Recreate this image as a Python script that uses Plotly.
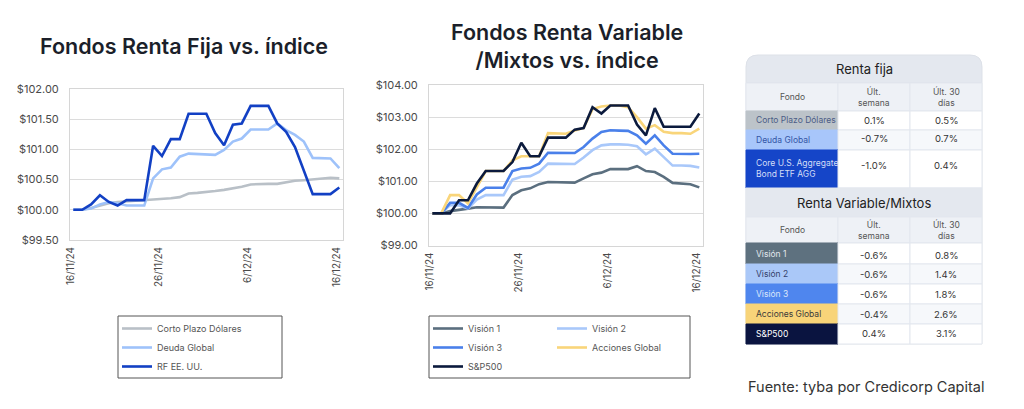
import pandas as pd
import plotly.graph_objects as go

W, H = 1024, 409
FONT = "Inter"

fechas = pd.date_range("2024-11-16", "2024-12-16", freq="D")
tick_fechas = ["2024-11-16", "2024-11-26", "2024-12-06", "2024-12-16"]
tick_textos = ["16/11/24", "26/11/24", "6/12/24", "16/12/24"]

# Renta fija
corto_plazo = [100.00, 100.00, 100.03, 100.07, 100.11, 100.13, 100.14, 100.15, 100.15, 100.16,
               100.17, 100.19, 100.21, 100.27, 100.28, 100.29, 100.31, 100.33, 100.35, 100.38,
               100.42, 100.43, 100.43, 100.43, 100.46, 100.48, 100.49, 100.50, 100.51, 100.53, 100.52]
deuda_global = [100.00, 100.00, 100.02, 100.09, 100.13, 100.11, 100.07, 100.07, 100.07, 100.52,
                100.67, 100.70, 100.88, 100.93, 100.92, 100.92, 100.91, 100.99, 101.13, 101.18,
                101.33, 101.33, 101.33, 101.43, 101.32, 101.24, 101.13, 100.86, 100.85, 100.85, 100.69]
rf_eeuu = [100.00, 100.00, 100.09, 100.24, 100.13, 100.07, 100.16, 100.16, 100.16, 101.06,
           100.89, 101.17, 101.17, 101.59, 101.59, 101.59, 101.27, 101.07, 101.41, 101.43,
           101.72, 101.72, 101.72, 101.43, 101.29, 101.04, 100.66, 100.26, 100.26, 100.26, 100.37]

# Renta variable / mixtos
vision_1 = [100.00, 100.00, 100.07, 100.12, 100.15, 100.19, 100.19, 100.18, 100.18, 100.57,
            100.72, 100.78, 100.91, 100.98, 100.98, 100.97, 100.96, 101.09, 101.22, 101.27,
            101.38, 101.38, 101.38, 101.47, 101.32, 101.29, 101.14, 100.95, 100.94, 100.91, 100.81]
vision_2 = [100.00, 100.00, 100.26, 100.25, 100.15, 100.43, 100.57, 100.57, 100.57, 101.05,
            101.14, 101.16, 101.29, 101.55, 101.55, 101.55, 101.54, 101.74, 101.97, 102.12,
            102.15, 102.15, 102.14, 102.09, 101.84, 102.02, 101.74, 101.49, 101.49, 101.48, 101.43]
vision_3 = [100.00, 100.00, 100.33, 100.33, 100.17, 100.59, 100.80, 100.80, 100.80, 101.32,
            101.40, 101.42, 101.55, 101.89, 101.89, 101.88, 101.88, 102.07, 102.33, 102.54,
            102.59, 102.58, 102.57, 102.43, 102.17, 102.43, 102.12, 101.86, 101.85, 101.85, 101.86]
acciones_global = [100.00, 100.00, 100.57, 100.57, 100.31, 100.83, 101.32, 101.32, 101.32, 101.65,
                   101.78, 101.78, 101.78, 102.50, 102.50, 102.48, 102.58, 102.66, 103.25, 103.33,
                   103.36, 103.36, 103.31, 103.00, 102.64, 102.75, 102.54, 102.50, 102.50, 102.48, 102.64]
sp500 = [100.00, 100.00, 100.00, 100.41, 100.41, 100.93, 101.32, 101.32, 101.32, 101.60,
         102.20, 101.78, 101.78, 102.36, 102.36, 102.36, 102.61, 102.66, 103.31, 103.11,
         103.36, 103.36, 103.36, 102.77, 102.43, 103.28, 102.70, 102.70, 102.70, 102.70, 103.11]

# Tabla
rf_fondos = ["Corto Plazo Dólares", "Deuda Global", "Core U.S. Aggregate<br>Bond ETF AGG"]
rf_semana = ["0.1%", "-0.7%", "-1.0%"]
rf_30d = ["0.5%", "0.7%", "0.4%"]
rv_fondos = ["Visión 1", "Visión 2", "Visión 3", "Acciones Global", "S&P500"]
rv_semana = ["-0.6%", "-0.6%", "-0.6%", "-0.4%", "0.4%"]
rv_30d = ["0.8%", "1.4%", "1.8%", "2.6%", "3.1%"]


def px(x):
    return x / W


def py(y):
    return 1 - y / H


fig = go.Figure()

series_rf = [
    ("Corto Plazo Dólares", corto_plazo, "#b9c0c7"),
    ("Deuda Global", deuda_global, "#9ec2fa"),
    ("RF EE. UU.", rf_eeuu, "#1240c4"),
]
for nombre, valores, color in series_rf:
    fig.add_trace(go.Scatter(
        x=fechas, y=valores, name=nombre, mode="lines",
        line={"color": color, "width": 2.6}, xaxis="x", yaxis="y", legend="legend",
    ))

series_rv = [
    ("Visión 1", vision_1, "#5b6f7f", "legend2"),
    ("Visión 2", vision_2, "#a9c8fa", "legend3"),
    ("Visión 3", vision_3, "#4a80ea", "legend2"),
    ("Acciones Global", acciones_global, "#f9d57a", "legend3"),
    ("S&P500", sp500, "#0b1a3d", "legend2"),
]
for nombre, valores, color, leg in series_rv:
    fig.add_trace(go.Scatter(
        x=fechas, y=valores, name=nombre, mode="lines",
        line={"color": color, "width": 2.6}, xaxis="x2", yaxis="y2", legend=leg,
    ))

x_range = [fechas[0] - pd.Timedelta(hours=9), fechas[-1] + pd.Timedelta(hours=10)]

eje_x = dict(
    type="date", range=x_range, tickmode="array", tickvals=tick_fechas, ticktext=tick_textos,
    tickangle=-90, showgrid=False, showline=True, mirror=True, linecolor="#d6d6d6",
    ticks="", tickfont={"size": 10, "color": "#4a4a4a", "family": FONT},
    ticklabelshift=-3, ticklabelstandoff=2, zeroline=False, automargin=False,
)
eje_y = dict(
    tickprefix="$", tickformat=".2f", showgrid=True, gridcolor="#dcdcdc", gridwidth=1,
    showline=True, mirror=True, linecolor="#d6d6d6", ticks="", zeroline=False,
    tickfont={"size": 11, "color": "#4a4a4a", "family": FONT}, ticklabelstandoff=8,
    automargin=False,
)

fig.update_layout(
    width=W, height=H, margin={"l": 0, "r": 0, "t": 0, "b": 0, "autoexpand": False},
    paper_bgcolor="white", plot_bgcolor="white",
    font={"family": FONT, "color": "#333"},
    xaxis={**eje_x, "domain": [px(70), px(343)], "anchor": "y"},
    yaxis={**eje_y, "domain": [py(240), py(89)], "range": [99.5, 102.0], "dtick": 0.5, "anchor": "x"},
    xaxis2={**eje_x, "domain": [px(429), px(703)], "anchor": "y2"},
    yaxis2={**eje_y, "domain": [py(245.5), py(85)], "range": [99.0, 104.0], "dtick": 1, "anchor": "x2"},
    showlegend=True,
)

leg_base = dict(
    bgcolor="rgba(0,0,0,0)", font={"size": 9, "color": "#555", "family": FONT},
    itemwidth=30, xanchor="left", yanchor="top", tracegroupgap=0,
    itemclick=False, itemdoubleclick=False,
)
fig.update_layout(
    legend={**leg_base, "x": px(117), "y": py(314)},
    legend2={**leg_base, "x": px(428), "y": py(314)},
    legend3={**leg_base, "x": px(552), "y": py(314)},
)

shapes = [
    dict(type="rect", xref="paper", yref="paper", x0=px(118), x1=px(282), y0=py(316), y1=py(378),
         line={"color": "#555", "width": 1}),
    dict(type="rect", xref="paper", yref="paper", x0=px(429), x1=px(690), y0=py(316), y1=py(378),
         line={"color": "#555", "width": 1}),
]
annotations = []


def texto(t, x, y, size=9.5, color="#333", anchor="center", weight=None):
    f = {"size": size, "color": color, "family": FONT}
    if weight:
        f["weight"] = weight
    annotations.append(dict(text=t, x=px(x), y=py(y), xref="paper", yref="paper",
                            xanchor=anchor, yanchor="middle", showarrow=False, font=f,
                            align=anchor))


texto("Fondos Renta Fija vs. índice", 184, 46, size=21.5, color="#1b1f2a", weight=600)
texto("Fondos Renta Variable<br>/Mixtos vs. índice", 567, 46, size=21.5, color="#1b1f2a", weight=600)
texto("Fuente: tyba por Credicorp Capital", 746, 386, size=14.5, color="#333", anchor="left")

# ---- tabla ----
COLS = [746, 838, 910, 982]
BORDE = "#e3e7ee"


def rect(x0, x1, y0, y1, fill, line=BORDE):
    shapes.append(dict(type="rect", xref="paper", yref="paper", x0=px(x0), x1=px(x1),
                       y0=py(y1), y1=py(y0), fillcolor=fill, line={"color": line, "width": 1},
                       layer="below"))


# marco con esquinas superiores redondeadas
r = 12
x0, x1, y0, y1 = COLS[0], COLS[-1], 55, 83
path = (f"M {px(x0)},{py(y1)} L {px(x0)},{py(y0 + r)} Q {px(x0)},{py(y0)} {px(x0 + r)},{py(y0)} "
        f"L {px(x1 - r)},{py(y0)} Q {px(x1)},{py(y0)} {px(x1)},{py(y0 + r)} L {px(x1)},{py(y1)} Z")
shapes.append(dict(type="path", xref="paper", yref="paper", path=path, fillcolor="#e4e8ef",
                   line={"color": "#dde1e8", "width": 1}, layer="below"))
rect(COLS[0], COLS[-1], 83, 344, "rgba(0,0,0,0)", "#e1e5ec")


def seccion(titulo, y_tit, y_cab, filas, fondos, semana, d30, fondos_bg, fondos_fg, y_val):
    if y_tit[0] != 55:
        rect(COLS[0], COLS[-1], y_tit[0], y_tit[1], "#e4e8ef")
    texto(titulo, (COLS[0] + COLS[-1]) / 2, (y_tit[0] + y_tit[1]) / 2, size=13, color="#222")
    for c in range(3):
        rect(COLS[c], COLS[c + 1], y_cab[0], y_cab[1], "#eef1f6")
    ym = (y_cab[0] + y_cab[1]) / 2
    texto("Fondo", (COLS[0] + COLS[1]) / 2, ym, size=8.5, color="#555")
    texto("Últ.<br>semana", (COLS[1] + COLS[2]) / 2, ym, size=8.5, color="#555")
    texto("Últ. 30<br>días", (COLS[2] + COLS[3]) / 2, ym, size=8.5, color="#555")
    for i in range(len(fondos)):
        ya, yb = filas[i], filas[i + 1]
        fondo_celda = "#ffffff" if i % 2 == 0 else "#f6f8fb"
        rect(COLS[0], COLS[1], ya, yb, fondos_bg[i], fondos_bg[i])
        rect(COLS[1], COLS[2], ya, yb, fondo_celda)
        rect(COLS[2], COLS[3], ya, yb, fondo_celda)
        texto(fondos[i], COLS[0] + 8, (ya + yb) / 2, size=8.5, color=fondos_fg[i], anchor="left")
        yv = y_val[i]
        texto(semana[i], (COLS[1] + COLS[2]) / 2, yv, size=9.5, color="#333")
        texto(d30[i], (COLS[2] + COLS[3]) / 2, yv, size=9.5, color="#333")


seccion("Renta fija", (55, 83), (83, 111), [111, 130, 150, 188], rf_fondos, rf_semana, rf_30d,
        ["#bcc3c9", "#a8c6fa", "#1545c8"], ["#4b5c86", "#3355a6", "#d3ddf7"],
        [120.5, 139, 165])
seccion("Renta Variable/Mixtos", (188, 217), (217, 243), [243, 264, 284, 304, 324, 344],
        rv_fondos, rv_semana, rv_30d,
        ["#5e717f", "#aac8f8", "#4f86ee", "#f8d479", "#0a1440"],
        ["#e2e8ee", "#34416b", "#dbe6fb", "#3a3a3a", "#ffffff"],
        [255, 274.5, 294.5, 314, 333.5])

fig.update_layout(shapes=shapes, annotations=annotations)

# sin margen del body para que la figura empiece en (0, 0)
fig.write_html("out.html", config={"displayModeBar": False},
               post_script="document.body.style.margin='0';")
